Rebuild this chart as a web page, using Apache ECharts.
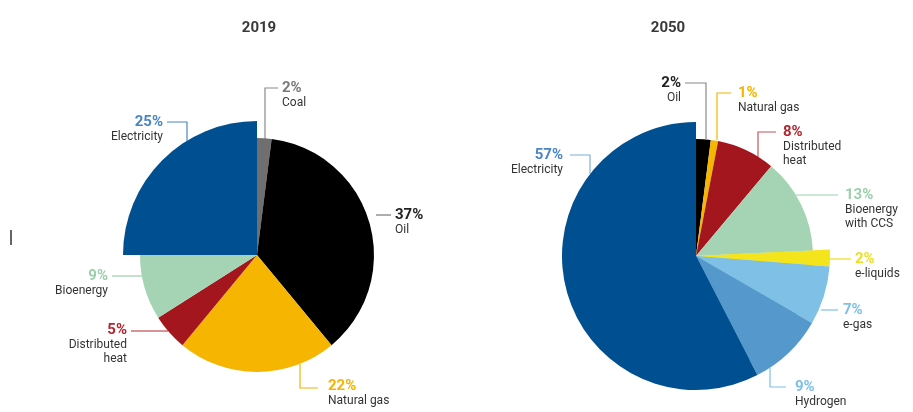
<!DOCTYPE html>
<html>
<head>
<meta charset="utf-8">
<script src="https://cdn.jsdelivr.net/npm/echarts@6/dist/echarts.min.js"></script>
<style>
  html, body { margin: 0; padding: 0; background: #fff; }
  #chart { width: 913px; height: 412px; }
</style>
</head>
<body>
<div id="chart"></div>
<script>
// Final energy mix, shares in percent
const names2019 = ['Coal', 'Oil', 'Natural gas', 'Distributed\nheat', 'Bioenergy', 'Electricity'];
const values2019 = [2, 37, 22, 5, 9, 25];

const names2050 = ['Oil', 'Natural gas', 'Distributed\nheat', 'Bioenergy\nwith CCS', 'e-liquids', 'e-gas', 'Hydrogen', 'Electricity'];
const values2050 = [2, 1, 8, 13, 2, 7, 9, 57];

// carriers drawn on the enlarged outer ring
const large2019 = [false, false, false, false, false, true];
const large2050 = [false, false, false, false, true, true, true, true];

const fill2019 = ['#6f6f6f', '#000000', '#f6b500', '#a3161d', '#a5d4b4', '#004f90'];
const fill2050 = ['#000000', '#f6b500', '#a3161d', '#a5d4b4', '#f3e41c', '#7ec0e6', '#5599cc', '#004f90'];
const text2019 = ['#7a7a7a', '#222222', '#f4b400', '#b32630', '#9ccfac', '#4a86c6'];
const line2019 = ['#8a8a8a', '#777777', '#f4b400', '#b32630', '#9ccfac', '#4a86c6'];
const text2050 = ['#222222', '#f4b400', '#b32630', '#9ccfac', '#f0de1e', '#7ec0e6', '#7ec0e6', '#4a86c6'];
const line2050 = ['#888888', '#f4b400', '#c4545a', '#9ccfac', '#f0de1e', '#7ec0e6', '#7ec0e6', '#7ab0dc'];

// label placement: [x, y of value line, align, leader polyline]
const place2019 = [
  [282, 88, 'left', [[265, 140], [265, 88], [278, 88]]],
  [395, 215, 'left', [[376, 215], [384, 215], [391, 215]]],
  [328, 386, 'left', [[300, 364], [300, 388], [318, 388]]],
  [127, 330, 'right', [[168, 331], [150, 331], [131, 331]]],
  [108, 276, 'right', [[142, 276], [127, 276], [112, 276]]],
  [163, 122, 'right', [[187, 141], [187, 122], [167, 122]]]
];
const place2050 = [
  [681, 83, 'right', [[706, 139], [706, 83], [685, 83]]],
  [738, 93, 'left', [[717, 140], [717, 93], [731, 93]]],
  [783, 132, 'left', [[758, 157], [758, 132], [776, 132]]],
  [845, 195, 'left', [[796, 195], [815, 195], [838, 195]]],
  [855, 259, 'left', [[830, 259], [840, 259], [851, 259]]],
  [843, 310, 'left', [[821, 310], [830, 310], [838, 310]]],
  [795, 387, 'left', [[770, 368], [770, 387], [786, 387]]],
  [563, 155, 'right', [[590, 174], [590, 155], [570, 155]]]
];

const FONT = 'Roboto, "Open Sans", sans-serif';

function innerData(names, values, fills, texts, lines, places) {
  return names.map((n, i) => ({
    name: n,
    value: values[i],
    itemStyle: { color: fills[i] },
    label: {
      show: true,
      formatter: '{p|' + values[i] + '%}\n{n|' + n.split('\n').join('}\n{n|') + '}',
      align: places[i][2],
      rich: {
        p: { fontFamily: FONT, fontWeight: 'bold', fontSize: 15, color: texts[i], lineHeight: 16, align: places[i][2] },
        n: { fontFamily: FONT, fontSize: 12, color: '#333', lineHeight: 14, align: places[i][2] }
      }
    },
    labelLine: { show: true, lineStyle: { color: lines[i], width: 1.2 } }
  }));
}

function outerData(names, values, fills, large) {
  return names.map((n, i) => ({
    name: n,
    value: values[i],
    itemStyle: { color: large[i] ? fills[i] : 'rgba(0,0,0,0)' }
  }));
}

function layoutFor(places) {
  return function (params) {
    const p = places[params.dataIndex];
    return {
      x: p[0],
      y: p[1] - 8,
      align: p[2],
      verticalAlign: 'top',
      labelLinePoints: p[3]
    };
  };
}

const base = {
  type: 'pie',
  startAngle: 90,
  clockwise: true,
  avoidLabelOverlap: false,
  animation: false,
  silent: true
};

const chart = echarts.init(document.getElementById('chart'), null, { renderer: 'canvas' });
chart.setOption({
  backgroundColor: '#ffffff',
  title: [
    { text: '2019', left: 254, top: 16, textAlign: 'center',
      textStyle: { fontFamily: FONT, fontSize: 15, fontWeight: 'bold', color: '#3a3a3a' } },
    { text: '2050', left: 663, top: 16, textAlign: 'center',
      textStyle: { fontFamily: FONT, fontSize: 15, fontWeight: 'bold', color: '#3a3a3a' } }
  ],
  graphic: [
    { type: 'rect', left: 10, top: 230, shape: { width: 2, height: 15 }, style: { fill: '#666' } }
  ],
  series: [
    Object.assign({}, base, {
      center: [257, 255], radius: [0, 134],
      label: { show: false }, labelLine: { show: false },
      data: outerData(names2019, values2019, fill2019, large2019)
    }),
    Object.assign({}, base, {
      center: [257, 255], radius: [0, 117],
      label: { show: true, position: 'outside' },
      labelLayout: layoutFor(place2019),
      data: innerData(names2019, values2019, fill2019, text2019, line2019, place2019)
    }),
    Object.assign({}, base, {
      center: [696, 256], radius: [0, 134],
      label: { show: false }, labelLine: { show: false },
      data: outerData(names2050, values2050, fill2050, large2050)
    }),
    Object.assign({}, base, {
      center: [696, 256], radius: [0, 117],
      label: { show: true, position: 'outside' },
      labelLayout: layoutFor(place2050),
      data: innerData(names2050, values2050, fill2050, text2050, line2050, place2050)
    })
  ]
});
</script>
</body>
</html>
